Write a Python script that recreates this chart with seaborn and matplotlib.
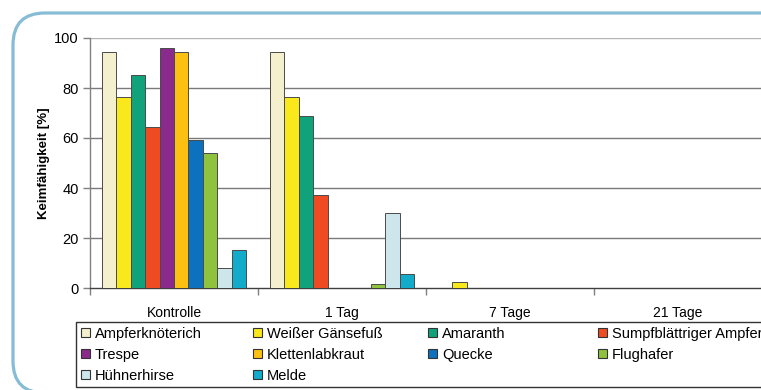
import matplotlib
matplotlib.use("Agg")
import matplotlib.pyplot as plt
from matplotlib.patches import Patch, Rectangle, FancyBboxPatch
from matplotlib.transforms import IdentityTransform
import numpy as np
import pandas as pd
import seaborn as sns

# Zeitpunkte nach der Behandlung
zeitpunkte = ["Kontrolle", "1 Tag", "7 Tage", "21 Tage"]

# Unkrautarten
arten = ["Ampferknöterich", "Weißer Gänsefuß", "Amaranth", "Sumpfblättriger Ampfer",
         "Trespe", "Klettenlabkraut", "Quecke", "Flughafer", "Hühnerhirse", "Melde"]

# Keimfähigkeit [%] je Art, Reihenfolge wie zeitpunkte
ampferknoeterich = [94.4, 94.4, 0, 0]
weisser_gaensefuss = [76.2, 76.2, 2.4, 0]
amaranth = [85.0, 68.6, 0, 0]
sumpf_ampfer = [64.4, 37.4, 0, 0]
trespe = [96.1, 0, 0, 0]
klettenlabkraut = [94.4, 0, 0, 0]
quecke = [59.0, 0, 0, 0]
flughafer = [54.1, 1.5, 0, 0]
huehnerhirse = [8.0, 30.0, 0, 0]
melde = [15.2, 5.8, 0, 0]

werte = [ampferknoeterich, weisser_gaensefuss, amaranth, sumpf_ampfer, trespe,
         klettenlabkraut, quecke, flughafer, huehnerhirse, melde]

farben = ["#f4f0cd", "#f8e81c", "#10a27a", "#ee4b22", "#8a2a8c",
          "#fcc012", "#0c72c0", "#8fc33e", "#cde6ec", "#12abc9"]
palette = dict(zip(arten, farben))

df = pd.DataFrame(
    [(z, a, w[i]) for a, w in zip(arten, werte) for i, z in enumerate(zeitpunkte)],
    columns=["Zeitpunkt", "Art", "Keimfähigkeit"],
)

W, H = 761, 390
fig = plt.figure(figsize=(W / 100, H / 100), dpi=100)
fig.patch.set_facecolor("white")
plt.rcParams["font.family"] = ["Liberation Sans", "DejaVu Sans"]

# abgerundeter Rahmen um die Grafik
frame = FancyBboxPatch((13, -3), 900, 380, boxstyle="round,pad=0,rounding_size=32",
                       transform=IdentityTransform(), facecolor="none",
                       edgecolor="#86bcd6", linewidth=2.3, zorder=0)
fig.add_artist(frame)

ax = fig.add_axes([90 / W, 102 / H, 672 / W, 250 / H])
sns.barplot(data=df, x="Zeitpunkt", y="Keimfähigkeit", hue="Art", order=zeitpunkte,
            hue_order=arten, palette=palette, saturation=1, width=0.86,
            edgecolor="#4a4a4a", linewidth=0.7, legend=False, ax=ax, zorder=3)

ax.set_xlim(-0.5, 3.5)
ax.set_ylim(0, 100)
ax.set_yticks([0, 20, 40, 60, 80, 100])
ax.set_facecolor("none")
ax.grid(False)
for y in [20, 40, 60, 80]:
    ax.axhline(y, color="#7a7a7a", lw=1.0, zorder=1)
ax.axhline(100, color="#b5b5b5", lw=1.0, zorder=1)

for s in ["top", "right"]:
    ax.spines[s].set_visible(False)
ax.spines["left"].set_color("#808080")
ax.spines["bottom"].set_color("#404040")
ax.spines["left"].set_linewidth(1.0)
ax.spines["bottom"].set_linewidth(1.0)

ax.set_xticks(np.arange(-0.5, 3.6, 1.0), minor=True)
ax.tick_params(axis="x", which="major", length=0, pad=13, labelsize=10, colors="black")
ax.tick_params(axis="x", which="minor", length=5, width=1, color="#808080")
ax.tick_params(axis="y", length=5, width=1, color="#808080", pad=3, labelsize=10.5)
ax.set_xlabel("")
ax.set_ylabel("Keimfähigkeit [%]", fontsize=9.5, fontweight="bold", labelpad=3)

# Legende unterhalb, zeilenweise in vier Spalten
fig.add_artist(Rectangle((76, 3), 900, 65, transform=IdentityTransform(),
                         facecolor="white", edgecolor="#333333", linewidth=1.0, zorder=1))
spalten_x = [81, 253, 428, 598]
for c, x in enumerate(spalten_x):
    namen = arten[c::4]
    handles = [Patch(facecolor=palette[n], edgecolor="#333333", linewidth=0.8) for n in namen]
    fig.legend(handles, namen, loc="upper left", bbox_to_anchor=(x / W, (H - 327) / H),
               frameon=False, fontsize=10.5, handlelength=0.6, handleheight=0.6,
               handletextpad=0.35, labelspacing=0.48, borderpad=0, borderaxespad=0)

fig.savefig("out.png", dpi=100)
